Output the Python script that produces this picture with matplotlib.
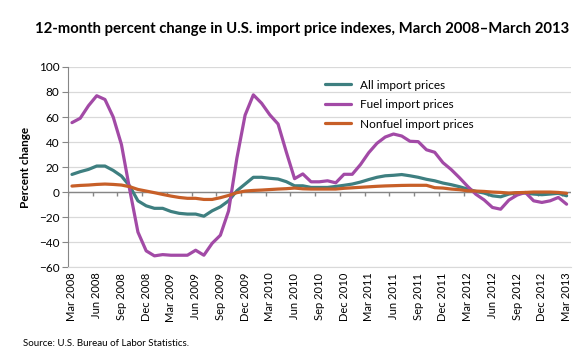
import matplotlib
matplotlib.use('Agg')
import matplotlib.pyplot as plt
import numpy as np

# Monthly data, Mar 2008 - Mar 2013 (61 months)
month_names = ['Mar', 'Apr', 'May', 'Jun', 'Jul', 'Aug', 'Sep', 'Oct', 'Nov', 'Dec', 'Jan', 'Feb']
months = [f'{month_names[i % 12]} {2008 + (i + 2) // 12}' for i in range(61)]

all_import = [14.1, 16.3, 18.1, 20.8, 20.8, 17.3, 12.8, 4.8, -7.0, -11.0,
              -13.0, -13.0, -15.5, -17.0, -17.6, -17.6, -19.3, -15.0, -11.8, -7.0,
              1.0, 6.4, 11.8, 11.8, 11.0, 10.4, 8.3, 5.0, 5.0, 3.7,
              3.7, 3.7, 4.5, 5.4, 6.4, 8.0, 10.0, 11.8, 13.0, 13.4,
              14.0, 13.0, 11.8, 10.2, 9.0, 7.2, 5.9, 4.3, 2.4, 0.5,
              -0.8, -3.0, -3.8, -1.6, -0.5, -0.8, -1.6, -2.1, -1.6, -1.0,
              -3.0]
fuel_import = [55.5, 59.0, 69.0, 77.0, 74.0, 60.0, 38.0, 2.0, -32.0, -47.0,
               -51.0, -50.0, -50.5, -50.5, -50.5, -46.5, -50.5, -41.0, -34.5, -15.0,
               27.0, 61.5, 77.7, 71.0, 61.7, 54.4, 32.0, 10.7, 14.5, 8.2,
               8.2, 9.0, 7.4, 14.2, 14.2, 22.0, 31.5, 39.0, 44.0, 46.4,
               44.8, 40.6, 40.3, 33.8, 31.8, 23.5, 18.0, 11.5, 4.5, -1.8,
               -6.3, -12.3, -13.7, -6.4, -2.4, -0.3, -7.0, -8.3, -7.0, -4.3,
               -9.7]
nonfuel_import = [4.8, 5.3, 5.6, 6.1, 6.4, 6.1, 5.6, 4.3, 2.1, 0.8,
                  -0.5, -1.9, -3.2, -4.3, -5.0, -5.0, -5.9, -5.9, -4.5, -2.7,
                  -0.5, 0.8, 1.3, 1.6, 2.0, 2.4, 2.7, 3.2, 2.6, 2.4,
                  2.4, 2.4, 2.4, 3.0, 3.4, 3.8, 4.2, 4.6, 4.9, 5.1,
                  5.3, 5.4, 5.4, 5.4, 3.5, 3.2, 2.4, 1.9, 1.0, 0.8,
                  0.5, 0.0, -0.3, -0.8, -0.5, -0.3, 0.0, 0.0, 0.0, -0.3,
                  -1.0]

series_names = ['All import prices', 'Fuel import prices', 'Nonfuel import prices']
colors = ['#3E7F80', '#A24AA6', '#C75F28']

font = ['Lato', 'DejaVu Sans']
plt.rcParams['font.family'] = font

fig = plt.figure(figsize=(5.8, 3.6), dpi=100)
ax = fig.add_axes([0.117, 0.258, 0.867, 0.556])

x = np.arange(len(months))
for vals, name, c in zip([all_import, fuel_import, nonfuel_import], series_names, colors):
    ax.plot(x, vals, color=c, lw=2.3, label=name, solid_capstyle='round', solid_joinstyle='round')

ax.set_xlim(-0.5, len(months) - 0.5)
ax.set_ylim(-60, 100)
ax.set_yticks(np.arange(-60, 101, 20))
ax.grid(axis='y', color='#D9D9D9', lw=0.9)
ax.set_axisbelow(True)

# zero line with category tick marks (Excel-style)
ax.axhline(0, color='#868686', lw=1.0, zorder=1)
ax.vlines(np.arange(-0.5, len(months), 3), 0, -3.2, color='#868686', lw=1.0, zorder=1)

ax.set_xticks(x[::3])
ax.set_xticklabels(months[::3], rotation=90, fontsize=8)
ax.tick_params(axis='x', length=0, pad=4)
ax.tick_params(axis='y', length=4, color='#868686', labelsize=8.5, pad=2)

for s in ['top', 'right']:
    ax.spines[s].set_visible(False)
ax.spines['left'].set_color('#868686')
ax.spines['bottom'].set_color('#D9D9D9')

ax.set_ylabel('Percent change', fontsize=8.5, fontweight='bold', labelpad=6)

ax.legend(loc='upper left', bbox_to_anchor=(0.49, 0.99), frameon=False, fontsize=8.5,
          handlelength=2.2, labelspacing=0.72)

fig.text(0.06, 0.908, '12-month percent change in U.S. import price indexes, March 2008\u2013March 2013',
         fontsize=10.7, fontweight='bold')
fig.text(0.04, 0.04, 'Source: U.S. Bureau of Labor Statistics.', fontsize=7)

fig.savefig('out.png', dpi=100)
